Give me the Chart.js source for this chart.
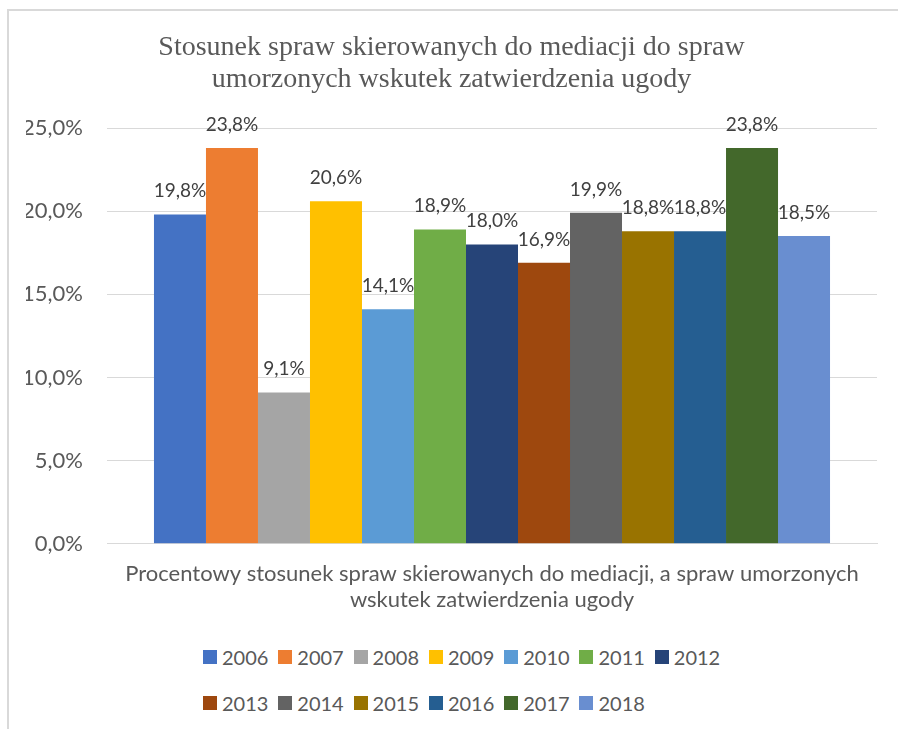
<!DOCTYPE html>
<html lang="pl">
<head>
<meta charset="utf-8">
<title>Stosunek spraw skierowanych do mediacji</title>
<script src="https://cdn.jsdelivr.net/npm/chart.js@4"></script>
<style>
  html, body { margin: 0; padding: 0; background: #fff; overflow: hidden; }
  #frame {
    position: absolute; left: 7px; top: 9px; width: 1000px; height: 1000px;
    border: 2px solid #d9d9d9; pointer-events: none;
  }
  #chartBox { position: absolute; left: 0; top: 0; width: 898px; height: 640px; }
  #legend {
    position: absolute; left: 203px; top: 650px;
    display: grid; grid-template-columns: repeat(7, 75.3px);
    grid-auto-rows: 14px; row-gap: 32px;
    font-family: Lato, sans-serif; font-size: 20px; color: #595959;
  }
  .item { display: flex; align-items: center; height: 14px; white-space: nowrap; }
  .box { width: 14px; height: 14px; margin-right: 5px; flex: none; }
</style>
</head>
<body>
<div id="frame"></div>
<div id="chartBox"><canvas id="mediationChart"></canvas></div>
<div id="legend"></div>
<script>
const years = ['2006', '2007', '2008', '2009', '2010', '2011', '2012',
  '2013', '2014', '2015', '2016', '2017', '2018'];
const shares = [19.8, 23.8, 9.1, 20.6, 14.1, 18.9, 18.0, 16.9, 19.9, 18.8, 18.8, 23.8, 18.5];
const colors = ['#4472C4', '#ED7D31', '#A5A5A5', '#FFC000', '#5B9BD5', '#70AD47', '#264478',
  '#9E480E', '#636363', '#997300', '#255E91', '#43682B', '#698ED0'];
const category = ['Procentowy stosunek spraw skierowanych do mediacji, a spraw umorzonych',
  'wskutek zatwierdzenia ugody'];
const yTicks = [0, 5, 10, 15, 20, 25];

function pct(v) {
  return v.toFixed(1).replace('.', ',') + '%';
}

// value labels above each bar
const valueLabels = {
  id: 'valueLabels',
  afterDatasetsDraw(chart) {
    const ctx = chart.ctx;
    ctx.save();
    ctx.font = '19px Lato';
    ctx.fillStyle = '#404040';
    ctx.textAlign = 'center';
    ctx.textBaseline = 'alphabetic';
    chart.data.datasets.forEach((ds, i) => {
      chart.getDatasetMeta(i).data.forEach((bar, j) => {
        ctx.fillText(pct(ds.data[j]), bar.x, bar.y - 17);
      });
    });
    ctx.restore();
  }
};

const ctx = document.getElementById('mediationChart');
new Chart(ctx, {
  type: 'bar',
  data: {
    labels: [category],
    datasets: years.map((y, i) => ({
      label: y,
      data: [shares[i]],
      backgroundColor: colors[i],
      borderWidth: 0
    }))
  },
  options: {
    responsive: true,
    maintainAspectRatio: false,
    animation: false,
    categoryPercentage: 0.878,
    barPercentage: 1,
    layout: { padding: { left: 26, right: 21, top: 0, bottom: 18 } },
    plugins: {
      legend: { display: false },
      tooltip: { enabled: false },
      title: {
        display: true,
        text: ['Stosunek spraw skierowanych do mediacji do spraw',
          'umorzonych wskutek zatwierdzenia ugody'],
        color: '#595959',
        font: { family: '"Liberation Serif", "Times New Roman", serif', size: 28, weight: 'normal', lineHeight: 1.125 },
        padding: { top: 32, bottom: 33 }
      }
    },
    scales: {
      x: {
        grid: { display: false },
        border: { color: '#d9d9d9' },
        afterFit(scale) {
          scale.paddingLeft = 0;
          scale.paddingRight = 0;
        },
        ticks: {
          color: '#595959',
          padding: 10,
          font: { family: 'Lato', size: 22, lineHeight: 1.14 }
        }
      },
      y: {
        min: 0,
        max: 25,
        afterBuildTicks(axis) {
          axis.ticks = yTicks.map(v => ({ value: v }));
        },
        afterFit(scale) {
          scale.width = 81;
        },
        grid: { color: '#d9d9d9', drawTicks: false },
        border: { display: false },
        ticks: {
          color: '#595959',
          padding: 24,
          font: { family: 'Lato', size: 22 },
          callback: v => pct(v)
        }
      }
    }
  },
  plugins: [valueLabels]
});

const legend = document.getElementById('legend');
years.forEach((y, i) => {
  const item = document.createElement('div');
  item.className = 'item';
  const box = document.createElement('span');
  box.className = 'box';
  box.style.background = colors[i];
  const txt = document.createElement('span');
  txt.textContent = y;
  item.appendChild(box);
  item.appendChild(txt);
  legend.appendChild(item);
});
</script>
</body>
</html>
